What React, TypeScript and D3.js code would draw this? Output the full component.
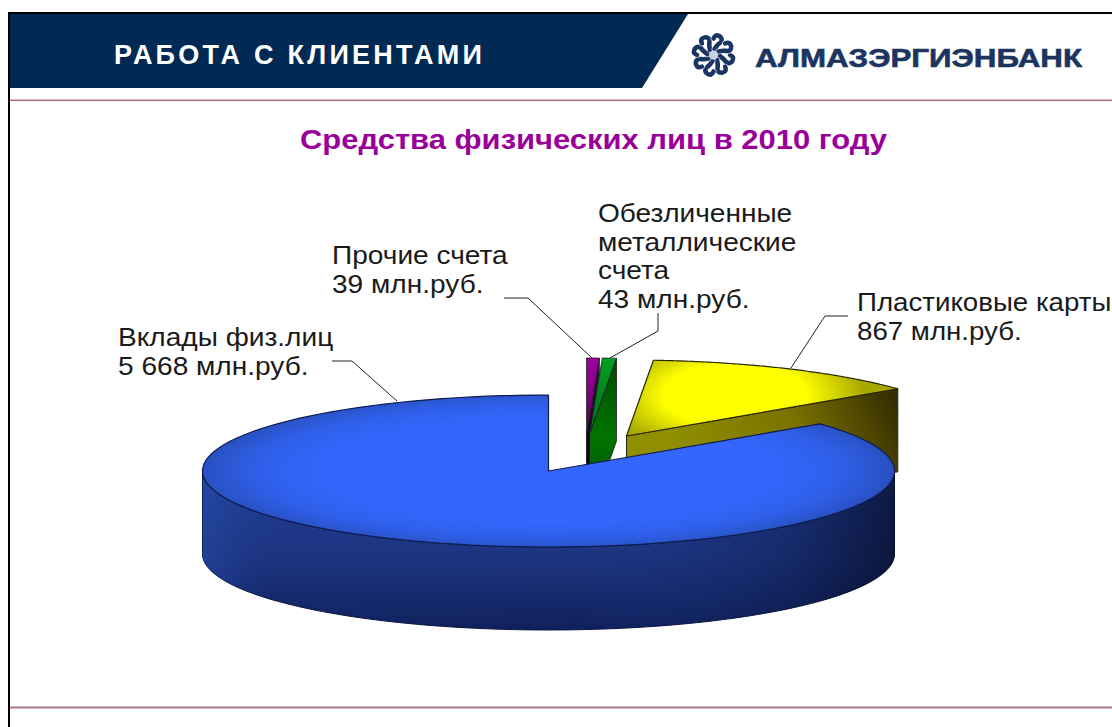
import React from "react";
import * as d3 from "d3";

const categories = ["Прочие счета", "Обезличенные металлические счета", "Пластиковые карты", "Вклады физ.лиц"];
const seriesValues = [39, 43, 867, 5668];
const labelLines = [
  ["Прочие счета", "39 млн.руб."],
  ["Обезличенные", "металлические", "счета", "43 млн.руб."],
  ["Пластиковые карты", "867 млн.руб."],
  ["Вклады физ.лиц", "5 668 млн.руб."],
];
const chartTitle = "Средства физических лиц в 2010 году";
const headerTitle = "РАБОТА С КЛИЕНТАМИ";
const bankName = "АЛМАЗЭРГИЭНБАНК";

// layout
const W = 1112, H = 727;
const CX = 548.5, CY = 471, RX = 346, RY = 76, DEPTH = 83;
const OFFSETS: [number, number][] = [[38, -37], [41, -37], [78, -35], [0, 0]];
const LABEL_POS: [number, number, number][] = [[332, 264, 29], [598, 222, 28.7], [857, 311, 29], [118, 346, 28.6]];
const LABEL_STRETCH = [1.08, 1.08, 1.065, 1.08];
const LEADERS: [number, number][][] = [
  [[504, 298], [528, 298], [592, 358]],
  [[658, 313], [658, 331], [610, 358]],
  [[848, 316], [825, 316], [791, 368]],
  [[332, 361], [352, 361], [397, 401]],
];

const arcs = d3.pie<number>().sort(null).value((d) => d).startAngle(0).endAngle(2 * Math.PI)(seriesValues);

const rim = (a: number, o: [number, number], dz = 0): [number, number] => [
  CX + o[0] + RX * Math.sin(a),
  CY + o[1] - RY * Math.cos(a) + dz,
];
const line = d3.line<[number, number]>();
const sample = (a0: number, a1: number, o: [number, number], dz = 0) =>
  d3.range(0, 121).map((i) => rim(a0 + ((a1 - a0) * i) / 120, o, dz));
const apex = (o: [number, number], dz = 0): [number, number] => [CX + o[0], CY + o[1] + dz];

const topPath = (i: number) => {
  const o = OFFSETS[i];
  return line([apex(o), ...sample(arcs[i].startAngle, arcs[i].endAngle, o)])! + "Z";
};
const endWall = (i: number) => {
  const o = OFFSETS[i];
  const e = arcs[i].endAngle;
  return line([apex(o), rim(e, o), rim(e, o, DEPTH), apex(o, DEPTH)])! + "Z";
};
const frontWall = (i: number) => {
  const o = OFFSETS[i];
  const a0 = Math.max(arcs[i].startAngle, Math.PI / 2);
  const a1 = Math.min(arcs[i].endAngle, (3 * Math.PI) / 2);
  return line([...sample(a0, a1, o), ...sample(a1, a0, o, DEPTH)])! + "Z";
};

// logo blades: thick swirl arms running from the hub to an outer lobe
const LOGO = { x: 713.5, y: 55, n: 8 };
const bladeLine = d3.line<[number, number]>().curve(d3.curveCatmullRom)(
  [[6, 1], [10, 4], [14, 8], [18, 7], [19.5, 2.5], [16.5, 0]]
)!;

const sans = "'Liberation Sans', Arial, sans-serif";

export default function App() {
  return (
    <svg width={W} height={H} viewBox={`0 0 ${W} ${H}`} style={{ position: "absolute", left: 0, top: 0, display: "block", background: "#fff" }} fontFamily={sans}>
      <defs>
        <radialGradient id="blueTop" gradientUnits="userSpaceOnUse" cx={CX} cy={CY} r={RX} gradientTransform={`translate(0 ${CY}) scale(1 ${RY / RX * 1.05}) translate(0 ${-CY})`}>
          <stop offset="0" stopColor="#3366ff" />
          <stop offset="0.62" stopColor="#3366ff" />
          <stop offset="0.85" stopColor="#2f5fe8" />
          <stop offset="1" stopColor="#2850c0" />
        </radialGradient>
        <linearGradient id="blueSide" x1="0" y1="0" x2="0" y2="1">
          <stop offset="0" stopColor="#223f98" />
          <stop offset="0.55" stopColor="#1c347f" />
          <stop offset="1" stopColor="#10205c" />
        </linearGradient>
        <linearGradient id="blueSideV" gradientUnits="userSpaceOnUse" x1="202" y1="0" x2="895" y2="0">
          <stop offset="0" stopColor="#2a55b8" stopOpacity="0.4" />
          <stop offset="0.1" stopColor="#1a3a90" stopOpacity="0.05" />
          <stop offset="0.55" stopColor="#1a3a90" stopOpacity="0" />
          <stop offset="0.85" stopColor="#050f30" stopOpacity="0.3" />
          <stop offset="1" stopColor="#050a20" stopOpacity="0.7" />
        </linearGradient>
        <radialGradient id="yellowTop" gradientUnits="userSpaceOnUse" cx="735" cy="395" r="130" gradientTransform="translate(0 395) scale(1 0.45) translate(0 -395)">
          <stop offset="0" stopColor="#ffff00" />
          <stop offset="0.55" stopColor="#ffff00" />
          <stop offset="1" stopColor="#a8a800" />
        </radialGradient>
        <linearGradient id="oliveWall" gradientUnits="userSpaceOnUse" x1="690" y1="480" x2="890" y2="392">
          <stop offset="0" stopColor="#8f8f00" />
          <stop offset="0.55" stopColor="#7a7200" />
          <stop offset="1" stopColor="#362e00" />
        </linearGradient>
        <linearGradient id="purpleTop" x1="0" y1="0" x2="0" y2="1">
          <stop offset="0" stopColor="#a000a0" />
          <stop offset="1" stopColor="#5a005a" />
        </linearGradient>
        <linearGradient id="purpleWall" x1="0" y1="0" x2="0" y2="1">
          <stop offset="0" stopColor="#5a005a" />
          <stop offset="0.4" stopColor="#200020" />
          <stop offset="1" stopColor="#000" />
        </linearGradient>
        <linearGradient id="greenTop" x1="0" y1="0" x2="0" y2="1">
          <stop offset="0" stopColor="#00a020" />
          <stop offset="1" stopColor="#006a10" />
        </linearGradient>
        <linearGradient id="greenWall" x1="0" y1="0" x2="0" y2="1">
          <stop offset="0" stopColor="#004c00" />
          <stop offset="0.5" stopColor="#007400" />
          <stop offset="1" stopColor="#004000" />
        </linearGradient>
      </defs>

      {/* frame */}
      <rect x={8} y={12} width={W - 8} height={2} fill="#000" />
      <rect x={8} y={12} width={2} height={H - 12} fill="#000" />
      <polygon points="10,14 688,14 642,88 10,88" fill="#002a54" />
      <rect x={10} y={99.5} width={W - 10} height={1.6} fill="#a9738c" />
      <rect x={10} y={706.5} width={W - 10} height={2} fill="#a9738c" />

      <text x={114} y={64} fill="#fff" fontSize={27} fontWeight="bold" textLength={368} lengthAdjust="spacing">{headerTitle}</text>

      {/* logo */}
      <g transform={`translate(${LOGO.x} ${LOGO.y})`}>
        {d3.range(LOGO.n).map((i) => (
          <g key={i} transform={`rotate(${(i * 360) / LOGO.n})`}>
            <path d={bladeLine} fill="none" stroke="#fff" strokeWidth={5.6} strokeLinecap="round" />
            <path d={bladeLine} fill="none" stroke="#1a3563" strokeWidth={4.6} strokeLinecap="round" />
          </g>
        ))}
        <circle r={4.5} fill="#c9d2e0" />
      </g>
      <text x={755} y={67} fill="#1c3560" stroke="#1c3560" strokeWidth={0.6} fontSize={26} fontWeight="bold" textLength={327} lengthAdjust="spacingAndGlyphs">{bankName}</text>

      <text x={300} y={149} fill="#990099" fontSize={27} fontWeight="bold" textLength={587} lengthAdjust="spacingAndGlyphs">{chartTitle}</text>

      {/* leaders */}
      {LEADERS.map((l, i) => (
        <path key={categories[i]} d={line(l)!} fill="none" stroke="#222" strokeWidth={1} />
      ))}

      {/* plastic cards */}
      <path d={endWall(2)} fill="url(#oliveWall)" stroke="#222" strokeWidth={1} />
      <path d={topPath(2)} fill="url(#yellowTop)" stroke="#2a2a00" strokeWidth={1.2} strokeLinejoin="round" />

      {/* other accounts */}
      <path d={endWall(0)} fill="url(#purpleWall)" stroke="#111" strokeWidth={0.8} />
      <path d={topPath(0)} fill="url(#purpleTop)" stroke="#222" strokeWidth={0.8} />

      {/* metal accounts */}
      <path d={endWall(1)} fill="url(#greenWall)" stroke="#111" strokeWidth={0.8} />
      <path d={topPath(1)} fill="url(#greenTop)" stroke="#123" strokeWidth={0.8} />

      {/* deposits */}
      <path d={frontWall(3)} fill="url(#blueSide)" stroke="#0a1440" strokeWidth={1} />
      <path d={frontWall(3)} fill="url(#blueSideV)" />
      <path d={topPath(3)} fill="url(#blueTop)" stroke="#101c50" strokeWidth={1.2} strokeLinejoin="round" />

      {/* labels */}
      {labelLines.map((lines, i) => (
        <g key={i} transform={`translate(${LABEL_POS[i][0]} 0) scale(${LABEL_STRETCH[i]} 1)`}>
          <text fontSize={26} fill="#1a1a1a">
            {lines.map((t, j) => (
              <tspan key={j} x={0} y={LABEL_POS[i][1] + j * LABEL_POS[i][2]}>{t}</tspan>
            ))}
          </text>
        </g>
      ))}
    </svg>
  );
}
